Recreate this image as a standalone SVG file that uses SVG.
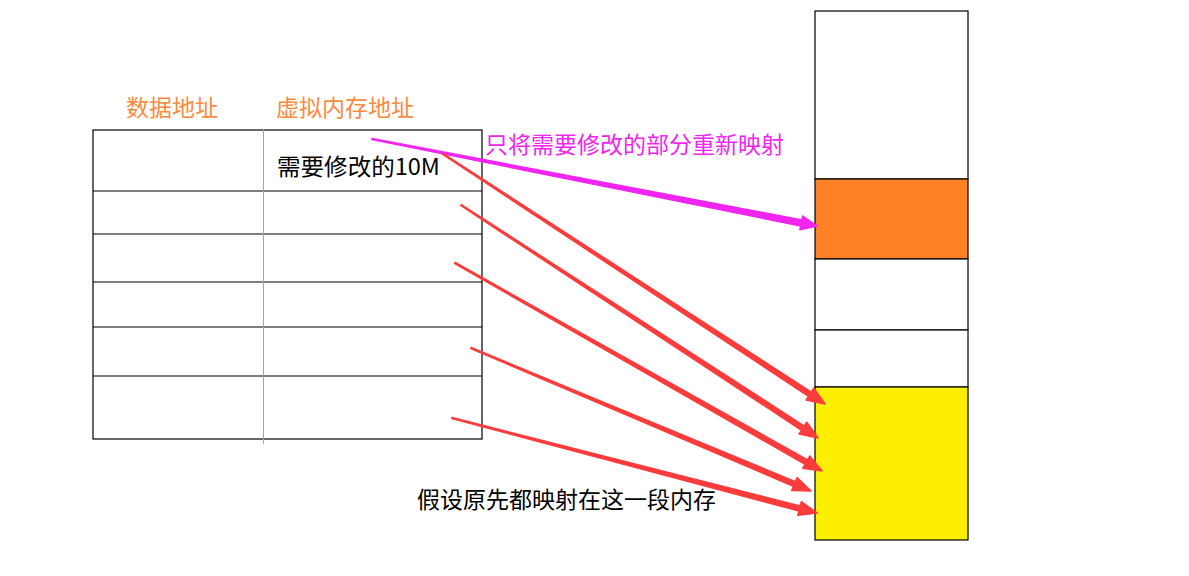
<svg xmlns="http://www.w3.org/2000/svg" width="1189" height="576" viewBox="0 0 1189 576">
<style>
.cell{fill:#fff;stroke:#000;stroke-width:1.2}
.t{font-family:"Noto Sans CJK SC",sans-serif;font-size:23px}
.or{fill:#fb8a3d}
.red{fill:#fb3c3c;stroke:#fb3c3c;stroke-width:1.6;stroke-linejoin:round}
.mag{fill:#f025f0;stroke:#f025f0;stroke-width:1.6;stroke-linejoin:round}
</style>
<rect width="1189" height="576" fill="#fff"/>
<g id="labels">
<text class="t or" x="126" y="116">数据地址</text>
<text class="t or" x="276" y="116">虚拟内存地址</text>
</g>
<g id="table">
<rect class="cell" x="93" y="130" width="389" height="309"/>
<line x1="93" y1="191" x2="482" y2="191" stroke="#000" stroke-width="1.2"/>
<line x1="93" y1="234" x2="482" y2="234" stroke="#000" stroke-width="1.2"/>
<line x1="93" y1="282" x2="482" y2="282" stroke="#000" stroke-width="1.2"/>
<line x1="93" y1="327" x2="482" y2="327" stroke="#000" stroke-width="1.2"/>
<line x1="93" y1="376" x2="482" y2="376" stroke="#000" stroke-width="1.2"/>
<line x1="263.5" y1="129" x2="263.5" y2="444" stroke="#e8905a" stroke-width="1"/>
<text class="t" x="277" y="175" fill="#000" textLength="163" lengthAdjust="spacingAndGlyphs">需要修改的10M</text>
</g>
<g id="memory">
<rect class="cell" x="815" y="11" width="153" height="168"/>
<rect x="815" y="179" width="153" height="80" fill="#ff8126" stroke="#000" stroke-width="1.2"/>
<rect class="cell" x="815" y="259" width="153" height="71"/>
<rect class="cell" x="815" y="330" width="153" height="57"/>
<rect x="815" y="387" width="153" height="153" fill="#fdef00" stroke="#000" stroke-width="1.2"/>
</g>
<g id="connectors">
<polygon class="mag" points="372.10,138.51 801.88,219.99 802.64,216.06 817,226 799.96,229.80 800.72,225.87 371.90,139.49"/>
<polygon class="red" points="443.27,153.58 811.31,392.05 813.77,388.28 825,404 806.11,400.00 808.57,396.23 442.73,154.42"/>
<polygon class="red" points="461.27,204.58 804.30,426.07 806.76,422.30 818,438 799.10,434.02 801.56,430.25 460.73,205.42"/>
<polygon class="red" points="455.25,262.56 807.57,459.94 809.79,456.03 822,471 802.89,468.21 805.11,464.30 454.75,263.44"/>
<polygon class="red" points="471.19,347.54 795.38,481.72 797.12,477.57 811,491 791.70,490.47 793.44,486.32 470.81,348.46"/>
<polygon class="red" points="452.13,417.52 800.21,506.05 801.34,501.70 817,513 797.82,515.24 798.95,510.89 451.87,418.48"/>
</g>
<g id="notes">
<text class="t" x="485" y="153" fill="#f025f0">只将需要修改的部分重新映射</text>
<text class="t" x="417" y="508" fill="#000">假设原先都映射在这一段内存</text>
</g>
</svg>
